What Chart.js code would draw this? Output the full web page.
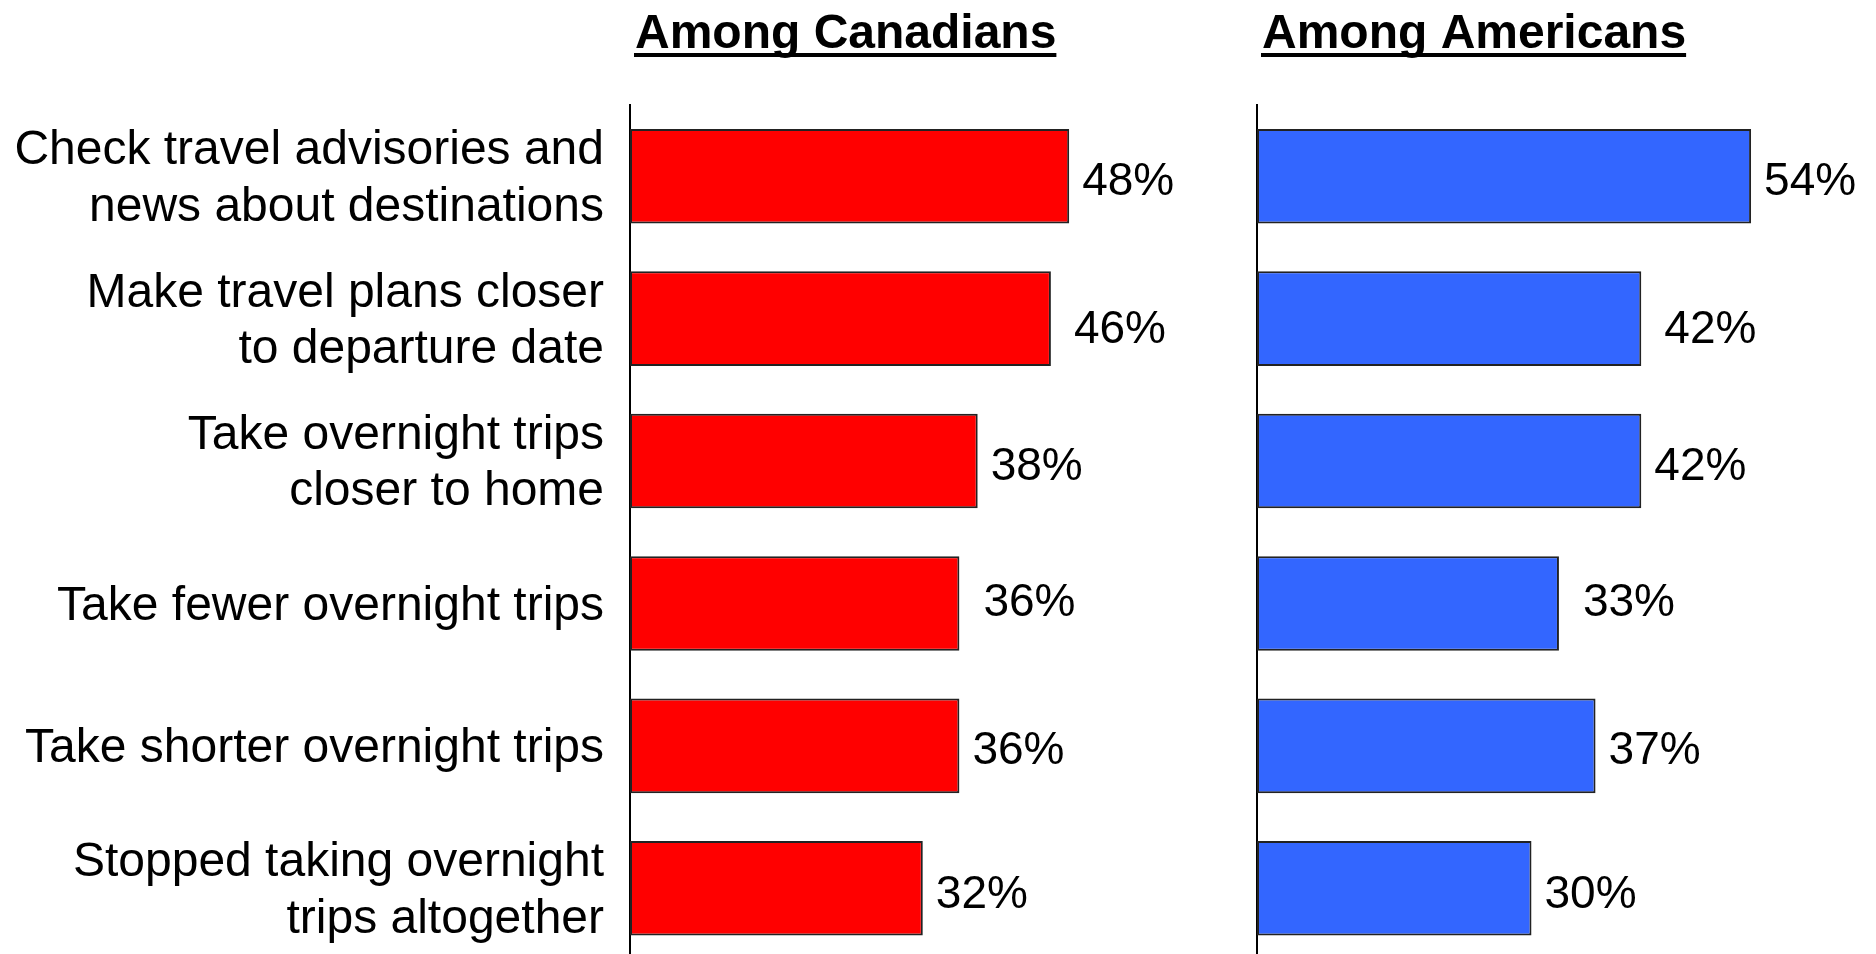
<!DOCTYPE html>
<html>
<head>
<meta charset="utf-8">
<title>Travel behaviour changes</title>
<script src="https://cdn.jsdelivr.net/npm/chart.js@4.4.0/dist/chart.umd.min.js"></script>
<style>
  html, body { margin: 0; padding: 0; background: #fff; overflow: hidden; }
  .panel { position: absolute; top: 0; }
  #panelCa { left: 0; }
  #panelUs { left: 1230px; }
</style>
</head>
<body>
<div class="panel" id="panelCa"><canvas id="chartCa" width="1230" height="960"></canvas></div>
<div class="panel" id="panelUs"><canvas id="chartUs" width="646" height="960"></canvas></div>

<script>
var categories = [
    ["Check travel advisories and", "news about destinations"],
    ["Make travel plans closer", "to departure date"],
    ["Take overnight trips", "closer to home"],
    "Take fewer overnight trips",
    "Take shorter overnight trips",
    ["Stopped taking overnight", "trips altogether"]
];
var canadians = [48, 46, 38, 36, 36, 32];
var americans = [54, 42, 42, 33, 37, 30];
var xMax = 60;

var FONT = '"Liberation Sans", Arial, Helvetica, sans-serif';
Chart.defaults.font.family = FONT;
Chart.defaults.color = '#000';

// little nudges so the value labels sit where they were typeset
var labelShiftX = [0, 10, 0, 11, 0, 0];
var labelShiftY = [2, 8, 2, -4, 2, 3];

// bold underlined heading drawn above the plot area
var headline = {
    id: 'headline',
    afterDraw: function (chart, args, opts) {
        var ctx = chart.ctx;
        var x = chart.chartArea.left + 5;
        ctx.save();
        ctx.font = 'bold 48px ' + FONT;
        ctx.fillStyle = '#000';
        ctx.textAlign = 'left';
        ctx.textBaseline = 'alphabetic';
        ctx.fillText(opts.text, x, 48);
        var w = ctx.measureText(opts.text).width;
        ctx.fillRect(x - 1, 53, w + 1, 4);
        ctx.restore();
    }
};

// percentage written just past the end of each bar
var valueLabels = {
    id: 'valueLabels',
    afterDatasetsDraw: function (chart) {
        var ctx = chart.ctx;
        var meta = chart.getDatasetMeta(0);
        var data = chart.data.datasets[0].data;
        ctx.save();
        ctx.font = '46px ' + FONT;
        ctx.fillStyle = '#000';
        ctx.textAlign = 'left';
        ctx.textBaseline = 'alphabetic';
        meta.data.forEach(function (bar, i) {
            var x = bar.x + 13 + labelShiftX[i];
            var y = bar.y + 16.5 + labelShiftY[i];
            ctx.fillText(data[i] + '%', x, y);
        });
        ctx.restore();
    }
};

function makeChart(id, values, color, title, showCategories, axisWidth, padRight) {
    return new Chart(document.getElementById(id).getContext('2d'), {
        type: 'bar',
        data: {
            labels: categories,
            datasets: [{
                data: values,
                backgroundColor: color,
                borderColor: '#222',
                borderWidth: 2,
                borderSkipped: false,
                barPercentage: 0.664,
                categoryPercentage: 1
            }]
        },
        options: {
            indexAxis: 'y',
            responsive: false,
            animation: false,
            layout: {
                padding: { top: 105, right: padRight, bottom: 0.5, left: 0 }
            },
            scales: {
                x: {
                    display: false,
                    min: 0,
                    max: xMax
                },
                y: {
                    grid: { display: false, drawTicks: false },
                    border: { display: true, color: '#000', width: 2 },
                    ticks: {
                        display: showCategories,
                        padding: 26,
                        labelOffset: 3,
                        color: '#000',
                        font: { size: 48, lineHeight: 1.17 }
                    },
                    afterFit: function (scale) {
                        // fixed gutter for the category text; labels fit inside their bands
                        scale.width = axisWidth;
                        scale.paddingTop = 0;
                        scale.paddingBottom = 0;
                    }
                }
            },
            plugins: {
                legend: { display: false },
                tooltip: { enabled: false },
                headline: { text: title }
            }
        },
        plugins: [headline, valueLabels]
    });
}

makeChart('chartCa', canadians, '#FF0000', 'Among Canadians', true, 630, 51);
makeChart('chartUs', americans, '#3366FF', 'Among Americans', false, 27, 70);
</script>
</body>
</html>
